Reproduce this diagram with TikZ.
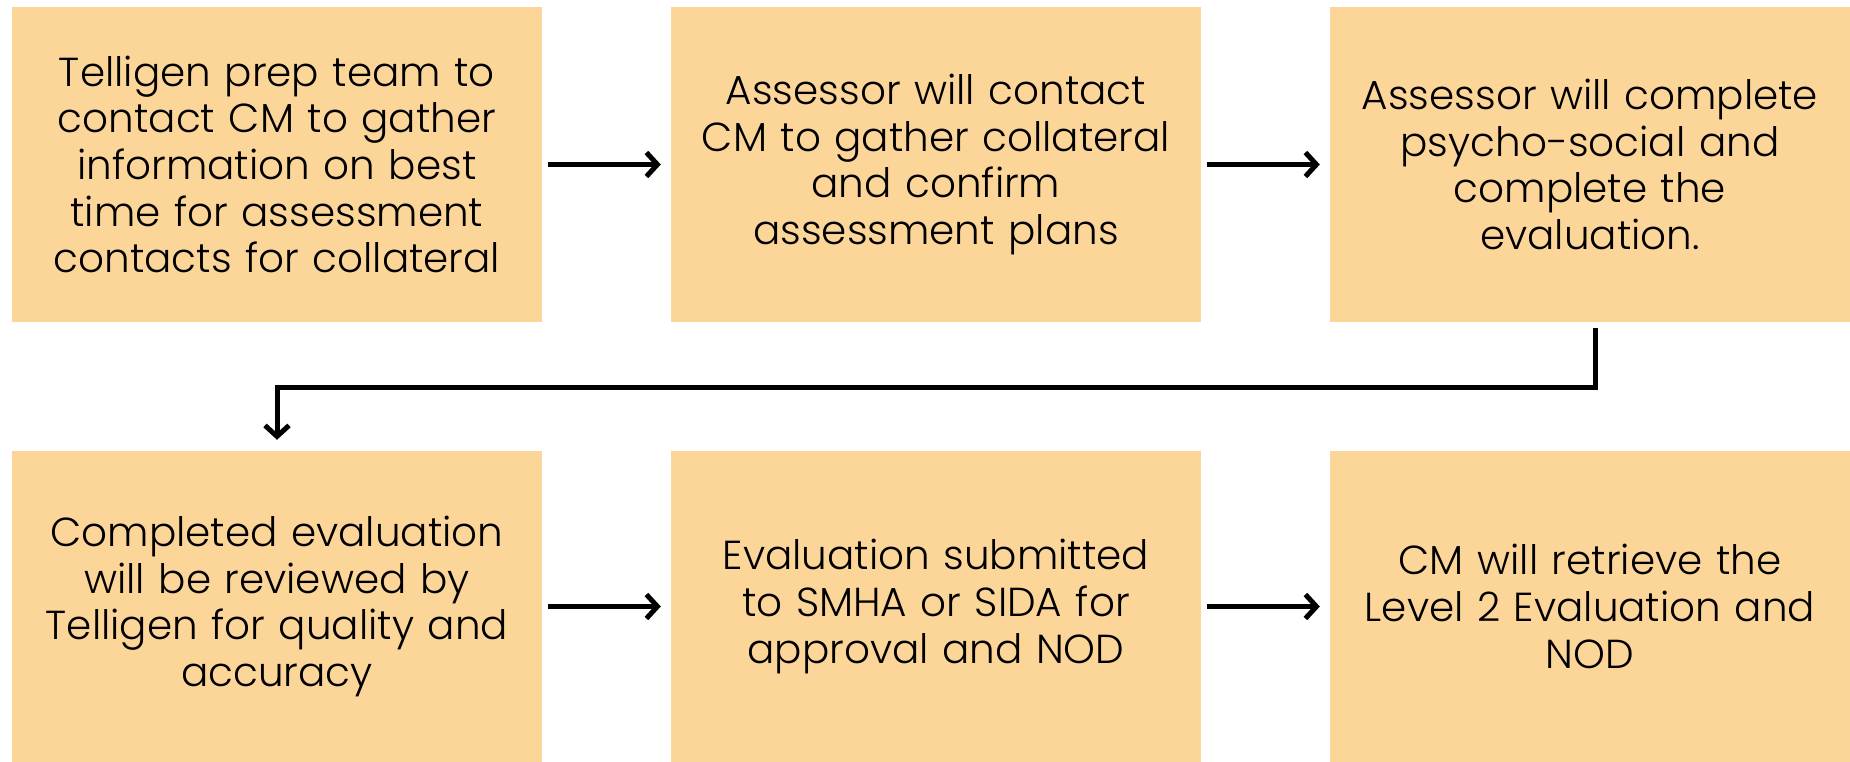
\documentclass[tikz,border=0pt]{standalone}
\usepackage{fontspec}
\setmainfont{Poppins}[UprightFont=* Light]
\usetikzlibrary{arrows.meta}
\definecolor{boxfill}{RGB}{252,213,153}
\begin{document}
\begin{tikzpicture}[x=1pt,y=-1pt,
  stepbox/.style={fill=boxfill, draw=none, rectangle, inner sep=0pt,
    minimum width=530pt, minimum height=315pt, text width=515pt, align=center,
    font=\fontsize{40.5}{46.6}\selectfont},
  flow/.style={line width=5pt, -{Straight Barb[length=11pt,width=24pt,line width=5pt]}}]
  \useasboundingbox[fill=white] (0,0) rectangle (1850,762);
  % top row
  \node[stepbox] (b1) at (277,164.5) {Telligen prep team to\\contact CM to gather\\information on best\\time for assessment\\contacts for collateral};
  \node[stepbox] (b2) at (936,164.5) {Assessor will contact\\CM to gather collateral\\and confirm\\assessment plans};
  \node[stepbox, minimum width=520pt] (b3) at (1590,164.5) {Assessor will complete\\psycho-social and\\complete the\\evaluation.};
  % bottom row
  \node[stepbox, minimum height=311pt] (b4) at (277,606.5) {Completed evaluation\\will be reviewed by\\Telligen for quality and\\accuracy};
  \node[stepbox, minimum height=311pt] (b5) at (936,606.5) {Evaluation submitted\\to SMHA or SIDA for\\approval and NOD};
  \node[stepbox, minimum height=311pt, minimum width=520pt] (b6) at (1590,606.5) {CM will retrieve the\\Level 2 Evaluation and\\NOD};
  % connectors
  \draw[flow, shorten <=6pt, shorten >=10pt] (b1.east) -- (b2.west);
  \draw[flow, shorten <=6pt, shorten >=10pt] (b2.east |- b1.east) -- (b3.west |- b1.east);
  \draw[flow, shorten <=6pt, shorten >=10pt] (b4.east) -- (b5.west);
  \draw[flow, shorten <=6pt, shorten >=10pt] (b5.east) -- (b6.west);
  \coordinate (turnR) at ([xshift=5pt]b3.south |- 0,387);
  \coordinate (turnL) at (b4.north |- 0,387);
  \draw[flow, shorten <=6pt, shorten >=11pt] ([xshift=5pt]b3.south) -- (turnR) -- (turnL) -- (b4.north);
\end{tikzpicture}
\end{document}
